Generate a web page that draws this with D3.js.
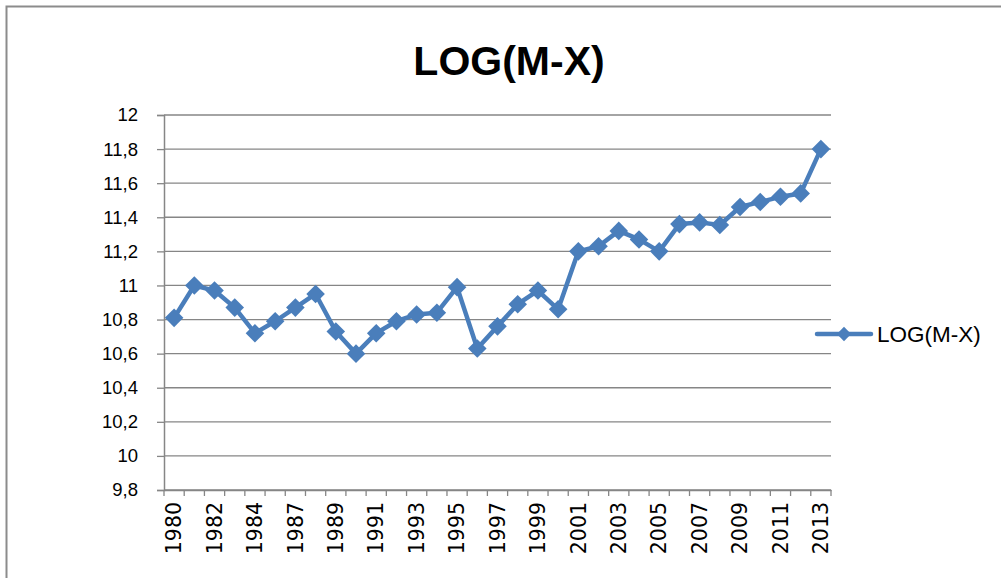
<!DOCTYPE html>
<html>
<head>
<meta charset="utf-8">
<script src="https://cdn.jsdelivr.net/npm/d3@7"></script>
<style>
  body { margin: 0; background: #fff; }
</style>
</head>
<body>
<script>
// data
var years = ["1980","1981","1982","1983","1984","1985","1987","1988","1989","1990",
             "1991","1992","1993","1994","1995","1996","1997","1998","1999","2000",
             "2001","2002","2003","2004","2005","2006","2007","2008","2009","2010",
             "2011","2012","2013"];
var logMX = [10.81, 11.0, 10.97, 10.87, 10.72, 10.79, 10.87, 10.95, 10.73, 10.6,
             10.72, 10.79, 10.83, 10.84, 10.99, 10.63, 10.76, 10.89, 10.97, 10.86,
             11.2, 11.23, 11.32, 11.27, 11.2, 11.36, 11.37, 11.355, 11.46, 11.49,
             11.52, 11.54, 11.8];
var yTicks = [9.8, 10, 10.2, 10.4, 10.6, 10.8, 11, 11.2, 11.4, 11.6, 11.8, 12];
var seriesName = "LOG(M-X)";

var W = 1001, H = 578;
var blue = "#4a7ebb", grid = "#868686";
var fmt = function (v) { return d3.format("~g")(v).replace(".", ","); };

var svg = d3.select("body").append("svg")
    .attr("width", W).attr("height", H);

// outer chart border
svg.append("rect")
    .attr("x", 6.5).attr("y", 6.5)
    .attr("width", 1010).attr("height", 600)
    .attr("fill", "none").attr("stroke", "#8c8c8c").attr("stroke-width", 2);

var plotL = 164, plotR = 831, plotT = 115, plotB = 490;

var x = d3.scaleBand().domain(years).range([plotL, plotR]);
var y = d3.scaleLinear().domain([9.8, 12]).range([plotB, plotT]);

// gridlines
svg.append("g").selectAll("line").data(yTicks).enter().append("line")
    .attr("x1", plotL).attr("x2", plotR)
    .attr("y1", function (d) { return y(d); })
    .attr("y2", function (d) { return y(d); })
    .attr("stroke", grid).attr("stroke-width", 1.3);

// y axis
var ya = svg.append("g").attr("transform", "translate(" + plotL + ",0)")
    .call(d3.axisLeft(y).tickValues(yTicks).tickFormat(fmt).tickSize(7).tickPadding(19));
ya.select(".domain").attr("stroke", grid).attr("stroke-width", 1.5);
ya.selectAll(".tick line").attr("stroke", grid).attr("stroke-width", 1.3);
ya.selectAll("text").attr("fill", "#000")
    .style("font-family", "'Liberation Sans', Arial, sans-serif").style("font-size", "18.5px");

// x axis
var xa = svg.append("g").attr("transform", "translate(0," + plotB + ")")
    .call(d3.axisBottom(x).tickSize(0).tickFormat(function (d, i) { return i % 2 === 0 ? d : ""; }));
xa.select(".domain").attr("stroke", grid).attr("stroke-width", 1.5);
xa.selectAll(".tick line").remove();
// tick marks at band boundaries
var bounds = years.map(function (d) { return x(d); }).concat([plotR]);
xa.selectAll("line.bt").data(bounds).enter().append("line")
    .attr("class", "bt")
    .attr("x1", function (d) { return d; }).attr("x2", function (d) { return d; })
    .attr("y1", 0).attr("y2", 6)
    .attr("stroke", grid).attr("stroke-width", 1.3);
xa.selectAll(".tick text")
    .attr("fill", "#000")
    .attr("transform", "rotate(-90)")
    .attr("x", -12).attr("y", 0).attr("dy", "0.35em")
    .style("text-anchor", "end")
    .style("font-family", "'DejaVu Sans', sans-serif").style("font-size", "20.5px");

// line
var line = d3.line()
    .x(function (d, i) { return x(years[i]) + x.bandwidth() / 2; })
    .y(function (d) { return y(d); });
svg.append("path").datum(logMX)
    .attr("d", line)
    .attr("fill", "none").attr("stroke", blue)
    .attr("stroke-width", 4.5).attr("stroke-linejoin", "round");

var diamond = d3.symbol().type(d3.symbolDiamond2).size(220);
svg.append("g").selectAll("path").data(logMX).enter().append("path")
    .attr("d", diamond)
    .attr("transform", function (d, i) {
      return "translate(" + (x(years[i]) + x.bandwidth() / 2) + "," + y(d) + ")";
    })
    .attr("fill", blue);

// title
svg.append("text")
    .attr("x", 509).attr("y", 75)
    .attr("text-anchor", "middle")
    .style("font-family", "'Liberation Sans', Arial, sans-serif")
    .style("font-weight", "bold").style("font-size", "41px")
    .text(seriesName);

// legend
var lg = svg.append("g").attr("transform", "translate(817,334)");
lg.append("line").attr("x1", 0).attr("x2", 54).attr("y1", 0).attr("y2", 0)
    .attr("stroke", blue).attr("stroke-width", 4.5).attr("stroke-linecap", "round");
lg.append("path").attr("d", d3.symbol().type(d3.symbolDiamond2).size(130))
    .attr("transform", "translate(27,0)").attr("fill", blue);
lg.append("text").attr("x", 60).attr("y", 0).attr("dy", "0.35em")
    .style("font-family", "'Liberation Sans', Arial, sans-serif").style("font-size", "22.5px")
    .text(seriesName);
</script>
</body>
</html>
